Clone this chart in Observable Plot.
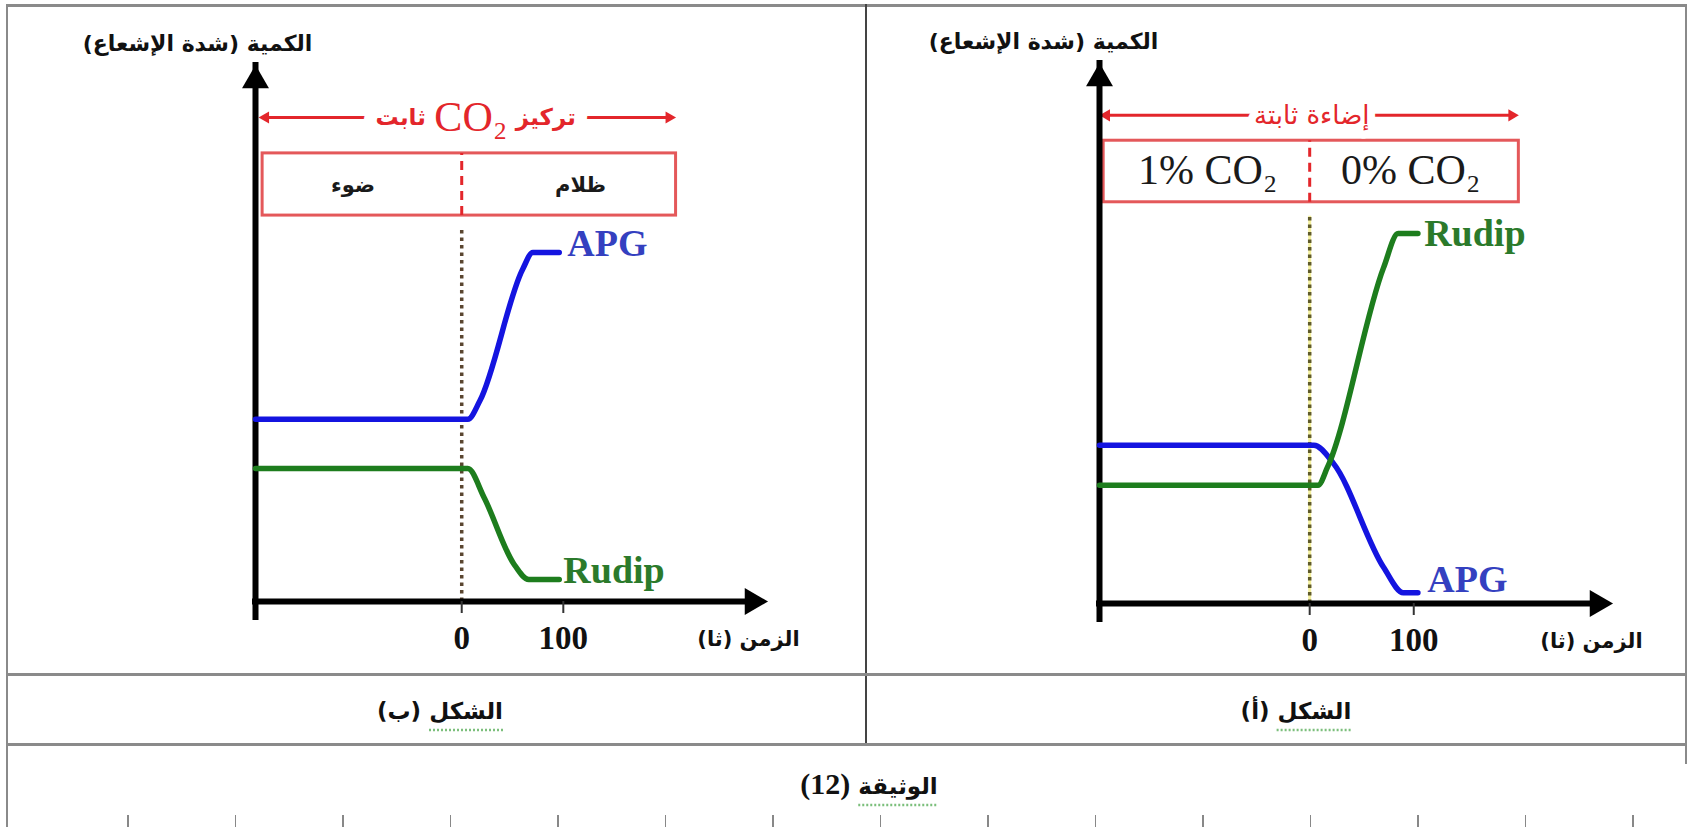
<!DOCTYPE html>
<html><head><meta charset="utf-8">
<script src="https://cdn.jsdelivr.net/npm/d3@7"></script>
<script src="https://cdn.jsdelivr.net/npm/@observablehq/plot@0.6"></script>
<style>
body{margin:0;background:#fff;}
#page{position:relative;width:1691px;height:827px;overflow:hidden;background:#fff;font-family:"DejaVu Sans",sans-serif;}
.chart{position:absolute;top:0;}
.ln{position:absolute;background:#8a8a8a;z-index:3;}
.cap{position:absolute;transform:translate(-50%,-50%);font-weight:bold;font-size:23px;white-space:nowrap;direction:rtl;color:#111;z-index:4;}
.num{font-family:"Liberation Serif",serif;font-size:30px;}
.sq{text-decoration:underline dotted #7cbf7c;text-underline-offset:10px;}
.rt{position:absolute;top:815px;width:1.5px;height:12px;background:#888;}
</style></head>
<body><div id="page">
<div id="chartB" class="chart" style="left:0;width:866px;"></div>
<div id="chartA" class="chart" style="left:866px;width:821px;"></div>
<div class="ln" style="left:6px;top:4px;width:1681px;height:3px;"></div>
<div class="ln" style="left:6px;top:4px;width:2px;height:823px;"></div>
<div class="ln" style="left:1685px;top:4px;width:2px;height:760px;"></div>
<div class="ln" style="left:865px;top:4px;width:2px;height:742px;background:#444;"></div>
<div class="ln" style="left:6px;top:673px;width:1681px;height:3px;"></div>
<div class="ln" style="left:6px;top:743px;width:1681px;height:3px;"></div>
<div class="cap" style="left:440px;top:711px;"><span class="sq">الشكل</span> (ب)</div>
<div class="cap" style="left:1296px;top:711px;"><span class="sq">الشكل</span> (أ)</div>
<div class="cap" style="left:869px;top:784px;"><span class="sq">الوثيقة</span> <span class="num">(12)</span></div>
</div>
<script>
// ---------- data ----------
const tickValues = [0, 100];
const seriesNames = ["APG", "Rudip"];
const yLabel = "الكمية (شدة الإشعاع)";
const xLabel = "الزمن (ثا)";

// Panel (ب): constant CO2, light -> dark
const bAPG_t = [-203, 6, 18, 60, 70, 96];
const bAPG_v = [34.0, 34.0, 37.5, 62.0, 65.1, 65.1];
const bRud_t = [-203, 6, 22, 51, 66, 96];
const bRud_v = [24.8, 24.8, 19.4, 7.1, 4.1, 4.1];
const bBoxLabels = ["ضوء", "ظلام"];
const bTitle = ["ثابت", "CO₂", "تركيز"];

// Panel (أ): constant light, 1% CO2 -> 0% CO2
const aAPG_t = [-202, 4, 23, 71, 90, 104];
const aAPG_v = [29.3, 29.3, 25.9, 6.7, 2.0, 2.0];
const aRud_t = [-202, 8, 17, 71, 85, 104];
const aRud_v = [21.9, 21.9, 25.2, 62.2, 68.5, 68.5];
const aBoxLabels = ["1% CO₂", "0% CO₂"];
const aTitle = "إضاءة ثابتة";

// ---------- drawing ----------
const RED = "#e3262b";
const BLUE = "#1414e0";
const GREEN = "#1d7d1d";
const SERIF = "Liberation Serif, Times New Roman, serif";
const ARAB = "DejaVu Sans, sans-serif";
const RLM = "\u200F";

function panel(c) {
  const [x0, x1] = c.xDomain;
  const apg = c.apgT.map((t, i) => ({t, v: c.apgV[i]}));
  const rud = c.rudT.map((t, i) => ({t, v: c.rudV[i]}));
  const marks = [];
  if (c.underlay) marks.push(Plot.ruleX([0], {y1: 0, y2: c.box.y1, stroke: c.underlay, strokeWidth: 3, insetBottom: -14}));
  marks.push(
    Plot.ruleX([0], {y1: 0, y2: c.box.y1, stroke: c.dotColor, strokeWidth: 3.5, strokeDasharray: "3.5 4", insetBottom: -14}),
    Plot.rect([c.box], {x1: "x1", x2: "x2", y1: "y1", y2: "y2", fill: "none", stroke: "#e4585a", strokeWidth: 3}),
    Plot.ruleX([0], {y1: c.box.y1, y2: c.box.y2, stroke: RED, strokeWidth: 3, strokeDasharray: "9 6"}),
    Plot.text(c.boxLabels, {x: (d, i) => c.boxLabelT[i], y: c.boxLabelY, text: d => d,
      fontSize: c.boxFont, fontWeight: c.boxWeight, fontFamily: c.boxFamily, fill: "#1a1a1a"}),
    // red double arrow
    Plot.ruleY([c.arrow.y], {x1: c.arrow.x1, x2: c.arrow.x2, stroke: RED, strokeWidth: 3, insetLeft: 6, insetRight: 6}),
    Plot.dot([c.arrow.x1], {x: d => d, y: c.arrow.y, symbol: "triangle", r: 4.5, fill: RED, rotate: -90, dx: 7}),
    Plot.dot([c.arrow.x2], {x: d => d, y: c.arrow.y, symbol: "triangle", r: 4.5, fill: RED, rotate: 90, dx: -7})
  );
  // title pieces: all white halos first, then the red glyphs
  for (const p of c.title) marks.push(Plot.text([p.text], {x: c.titleT, y: c.arrow.y, text: d => d, textAnchor: p.anchor, dx: p.dx,
    fontSize: p.size, fontFamily: p.family, fontWeight: p.weight, fill: "white", stroke: "white", strokeWidth: p.halo}));
  for (const p of c.title) marks.push(Plot.text([p.text], {x: c.titleT, y: c.arrow.y, text: d => d, textAnchor: p.anchor, dx: p.dx,
    fontSize: p.size, fontFamily: p.family, fontWeight: p.weight, fill: RED}));
  marks.push(
    // axes
    Plot.ruleX([x0], {y1: 0, y2: 100, stroke: "#000", strokeWidth: 6, insetTop: 16, strokeLinecap: "square"}),
    Plot.ruleY([0], {x1: x0, x2: x1, stroke: "#000", strokeWidth: 6, insetRight: 16, strokeLinecap: "square"}),
    Plot.dot([x0], {x: d => d, y: 100, symbol: "triangle", r: 10, fill: "#000", dy: 15}),
    Plot.dot([x1], {x: d => d, y: 0, symbol: "triangle", r: 10, fill: "#000", rotate: 90, dx: -15}),
    Plot.ruleX(tickValues, {x: d => d, y1: 0, y2: 0, insetBottom: -12, stroke: "#333", strokeWidth: 2}),
    Plot.text(tickValues, {x: d => d, y: 0, dy: 37, text: d => String(d), fontSize: 33, fontWeight: "bold", fontFamily: SERIF, fill: "#111"}),
    // curves
    Plot.line(apg, {x: "t", y: "v", stroke: BLUE, strokeWidth: 5.5, curve: "monotone-x"}),
    Plot.line(rud, {x: "t", y: "v", stroke: GREEN, strokeWidth: 5.5, curve: "monotone-x"}),
    Plot.text(c.labels, {x: "t", y: "v", text: "name", fill: "color", textAnchor: "start",
      fontSize: 38, fontWeight: "bold", fontFamily: SERIF}),
    // axis titles
    Plot.text([yLabel + RLM], {x: x0, y: 100, dx: c.yLabelDx, dy: -22, text: d => d, fontSize: 22, fontWeight: "bold", fontFamily: ARAB, fill: "#111"}),
    Plot.text([xLabel + RLM], {x: x1, y: 0, dx: c.xLabelDx, dy: 38, text: d => d, fontSize: 21, fontWeight: "bold", fontFamily: ARAB, fill: "#111"})
  );
  return Plot.plot({
    width: c.width, height: 674,
    marginLeft: c.ml, marginRight: c.mr, marginTop: c.mt, marginBottom: c.mb,
    x: {domain: c.xDomain, axis: null},
    y: {domain: [0, 100], axis: null},
    color: {type: "identity"},
    style: {background: "transparent", overflow: "visible"},
    marks
  });
}

const chartB = panel({
  width: 866, ml: 255, mr: 99, mt: 65, mb: 73,
  xDomain: [-203, 301],
  apgT: bAPG_t, apgV: bAPG_v, rudT: bRud_t, rudV: bRud_v,
  box: {x1: -196, x2: 211, y1: 72.0, y2: 83.6},
  boxLabels: bBoxLabels, boxLabelT: [-107, 117], boxLabelY: 77.6,
  boxFont: 21, boxWeight: "bold", boxFamily: ARAB,
  arrow: {y: 90.3, x1: -200, x2: 211},
  dotColor: "#5a4630", underlay: null,
  titleT: 9,
  title: [
    {text: bTitle[0], anchor: "end", dx: -45, size: 23, family: ARAB, weight: "bold", halo: 26},
    {text: bTitle[1], anchor: "middle", dx: 0, size: 42, family: SERIF, weight: "normal", halo: 22},
    {text: bTitle[2], anchor: "start", dx: 45, size: 23, family: ARAB, weight: "bold", halo: 26}
  ],
  labels: [
    {name: seriesNames[0], t: 104, v: 66.8, color: "#3440c0"},
    {name: seriesNames[1], t: 100, v: 5.8, color: "#2b7a2b"}
  ],
  yLabelDx: -58, xLabelDx: -19
});
const chartA = panel({
  width: 821, ml: 233, mr: 75, mt: 63, mb: 71,
  xDomain: [-202, 291],
  apgT: aAPG_t, apgV: aAPG_v, rudT: aRud_t, rudV: aRud_v,
  box: {x1: -198, x2: 201, y1: 74.3, y2: 85.7},
  boxLabels: aBoxLabels, boxLabelT: [-98, 97], boxLabelY: 80.2,
  boxFont: 42, boxWeight: "normal", boxFamily: SERIF,
  arrow: {y: 90.4, x1: -202, x2: 201},
  dotColor: "#5f5a2a", underlay: "#f3ef9c",
  titleT: 2,
  title: [
    {text: aTitle, anchor: "middle", dx: 0, size: 26, family: ARAB, weight: "normal", halo: 16}
  ],
  labels: [
    {name: seriesNames[1], t: 110, v: 68.5, color: "#2b7a2b"},
    {name: seriesNames[0], t: 113, v: 4.3, color: "#3440c0"}
  ],
  yLabelDx: -56, xLabelDx: -21
});
document.getElementById("chartB").appendChild(chartB);
document.getElementById("chartA").appendChild(chartA);

// ruler marks at the bottom edge
const page = document.getElementById("page");
for (let x = 127; x < 1691; x += 107.5) {
  const d = document.createElement("div");
  d.className = "rt"; d.style.left = x + "px";
  page.appendChild(d);
}
</script>
</body></html>
